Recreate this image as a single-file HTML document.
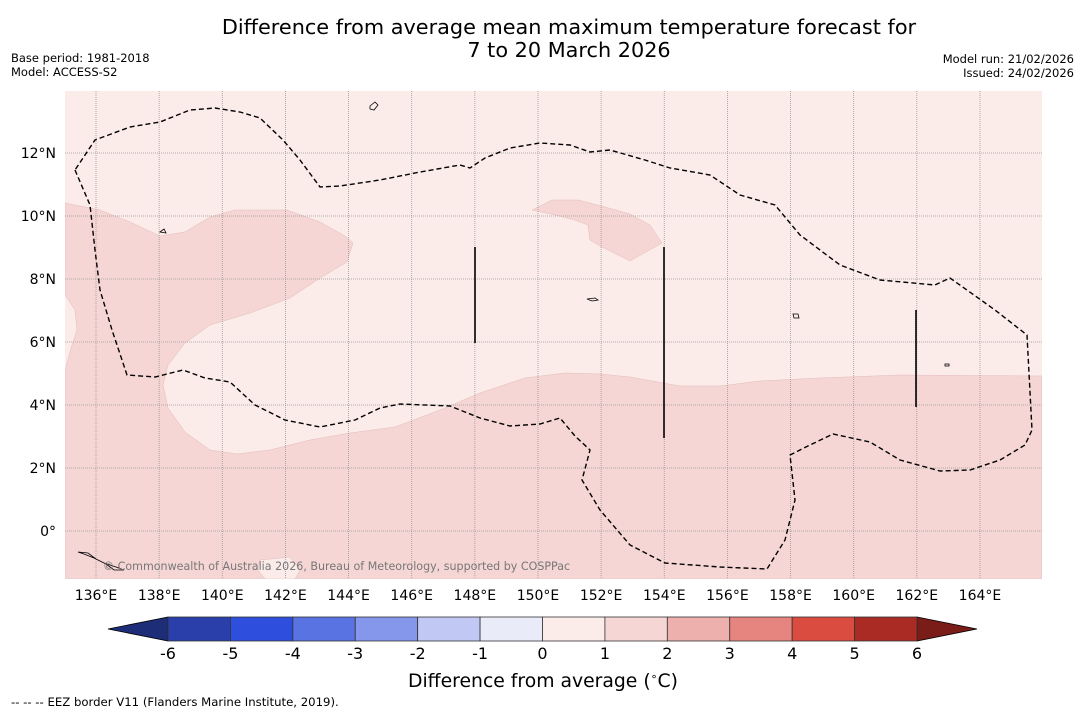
<!DOCTYPE html>
<html><head><meta charset="utf-8"><style>
body{margin:0;background:#fff;font-family:"Liberation Sans","DejaVu Sans",sans-serif}
svg{display:block}
text{font-family:"DejaVu Sans","Liberation Sans",sans-serif}
</style></head><body>
<svg id="c" width="1085" height="713" viewBox="0 0 1085 713">
<text x="569" y="34" font-size="20.8" text-anchor="middle">Difference from average mean maximum temperature forecast for</text>
<text x="569" y="57" font-size="20.8" text-anchor="middle">7 to 20 March 2026</text>
<text x="11" y="62" font-size="11.5">Base period: 1981-2018</text>
<text x="11" y="76" font-size="11.5">Model: ACCESS-S2</text>
<text x="1074" y="63" font-size="11.5" text-anchor="end">Model run: 21/02/2026</text>
<text x="1074" y="77" font-size="11.5" text-anchor="end">Issued: 24/02/2026</text>
<defs><clipPath id="clip"><rect x="65" y="91" width="977" height="488"/></clipPath></defs>
<g id="map" clip-path="url(#clip)">
<rect x="65" y="91" width="977" height="488" fill="#fbebe9"/>
<path fill="#f5d6d4" stroke="#e2bcbb" stroke-width="0.5" d="M65,203 L100,210 130,222 160,236 185,232 210,217 235,210 287,210 320,222 345,236 353,243 347,262 320,278 290,298 250,313 210,325 185,343 168,365 163,385 168,408 185,432 210,450 237,454 270,450 310,440 350,433 395,427 440,410 480,393 525,378 565,373 600,374 630,377 680,386 720,386 760,381 820,378 900,375 1042,376 1042,579 65,579 65,370 72,345 77,330 75,310 65,295Z"/>
<path fill="#f5d6d4" stroke="#e2bcbb" stroke-width="0.5" d="M532,210 L552,200 578,200 605,207 630,214 650,225 662,243 630,261 600,246 590,240 588,225 575,220 555,215Z"/>
<path fill="#fbebe9" stroke="#e2bcbb" stroke-width="0.5" d="M260,560 L290,557 300,570 295,579 265,579 258,570Z"/>
<g id="grid" stroke="#999" stroke-width="0.8" stroke-dasharray="1,1"></g>
<path fill="none" stroke="#000" stroke-width="1.4" stroke-dasharray="5,3" d="M75,170 L90,205 95,250 100,290 112,330 127,375 155,377 183,370 205,378 230,382 255,405 285,420 320,427 355,420 380,408 400,404 450,406 480,418 510,426 540,424 560,418 575,436 590,450 582,480 600,510 630,545 665,563 720,567 767,569 785,540 795,500 790,455 810,445 833,434 870,442 900,460 940,471 970,470 1000,460 1025,445 1032,430 1027,335 995,310 950,278 935,285 880,280 840,265 800,235 775,205 740,195 710,175 670,168 645,160 610,150 590,152 570,145 540,143 510,148 485,158 470,168 460,165 420,172 380,180 340,186 320,187 300,160 283,140 260,118 240,112 215,108 190,110 160,122 130,127 95,140 75,170"/>
<g stroke="#000" stroke-width="1.6">
<line x1="475" y1="247" x2="475" y2="343"/><line x1="664" y1="247" x2="664" y2="438"/><line x1="916" y1="310" x2="916" y2="407"/></g>
<g fill="none" stroke="#000" stroke-width="0.8">
<path d="M370,106 l5,-4 3,3 -4,5 -4,-1z"/><path d="M160,232 l4,-3 2,4z"/><path d="M587,299 l8,-1 3,2 -6,1z"/><path d="M793,314 l5,0 1,4 -5,0z"/><path d="M945,364 l4,0 0,2 -4,0z"/><path d="M78,552 l10,1 8,6 10,5 8,6 10,0 -8,-3 -12,-4 -10,-5 -10,-4z"/></g>
<text x="103" y="570" font-size="11.1" fill="#777">© Commonwealth of Australia 2026, Bureau of Meteorology, supported by COSPPac</text>
</g>
<g id="axes" font-size="14"></g>
<g id="cbar"></g>
<text x="543" y="687" font-size="18.8" text-anchor="middle">Difference from average (<tspan font-size="11" dy="-7">∘</tspan><tspan dy="7">C)</tspan></text>
<text x="11" y="706" font-size="11.7">--  --  -- EEZ border V11 (Flanders Marine Institute, 2019).</text>
</svg>
<script>
const lonTicks=[136,138,140,142,144,146,148,150,152,154,156,158,160,162,164];
const latTicks=[12,10,8,6,4,2,0];
const levels=[-6,-5,-4,-3,-2,-1,0,1,2,3,4,5,6];
const levelColors=["#2a3fa9","#2e4fdd","#5a73e3","#8497eb","#c0c8f3","#e9ebf9","#fbebe9","#f5d6d4","#eeb0ac","#e6857f","#da4b40","#aa2a24"];
const lowColor="#1d2d78", highColor="#7a1c17";
const ns="http://www.w3.org/2000/svg";
const X=lon=>96+(lon-136)*31.57, Y=lat=>531-lat*31.5;
function mk(t,a,p){const e=document.createElementNS(ns,t);for(const k in a)e.setAttribute(k,a[k]);p.appendChild(e);return e;}
const grid=document.getElementById('grid'),axes=document.getElementById('axes'),cb=document.getElementById('cbar');
lonTicks.forEach(l=>{const g=mk('line',{x1:X(l),x2:X(l),y1:91,y2:579},grid);


const t=mk('text',{x:X(l),y:600,'text-anchor':'middle'},axes);t.textContent=l+'°E';

});
latTicks.forEach(l=>{const g=mk('line',{x1:65,x2:1042,y1:Y(l),y2:Y(l)},grid);


const t=mk('text',{x:56,y:Y(l)+5,'text-anchor':'end'},axes);t.textContent=l===0?'0°':l+'°N';

});
const cx=v=>168+(v+6)*(917-168)/12, cy0=617, cy1=641;
const lt=mk('polygon',{points:`${cx(-6)},${cy0} 108,629 ${cx(-6)},${cy1}`,fill:lowColor,stroke:'#000','stroke-width':0.8},cb);


const rt=mk('polygon',{points:`${cx(6)},${cy0} 977,629 ${cx(6)},${cy1}`,fill:highColor,stroke:'#000','stroke-width':0.8},cb);


levelColors.forEach((c,i)=>{const r=mk('rect',{x:cx(levels[i]),y:cy0,width:cx(levels[i+1])-cx(levels[i]),height:cy1-cy0,fill:c,stroke:'#333','stroke-width':0.8},cb);

});
levels.forEach(v=>{const t=mk('text',{x:cx(v),y:659,'text-anchor':'middle','font-size':16},cb);t.textContent=v;

});
</script>
</body></html>
